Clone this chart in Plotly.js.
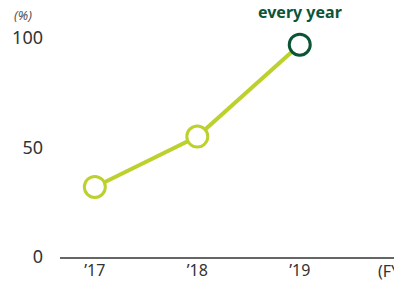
<!DOCTYPE html>
<html><head><meta charset="utf-8">
<script src="https://cdn.plot.ly/plotly-3.0.1.min.js"></script>
<style>html,body{margin:0;padding:0;background:#fff;overflow:hidden}#c{width:394px;height:282px}</style>
</head><body><div id="c"></div>
<script>
const years = ["\u201917", "\u201918", "\u201919"];
const values = [32, 55, 97];
const markerOutline = ['#bdd12e', '#bdd12e', '#0b5536'];
const yTicks = [0, 50, 100];

const xIdx = years.map((_, i) => i);
const trace = {
  x: xIdx, y: values, type: 'scatter', mode: 'lines+markers',
  line: {color: '#bdd12e', width: 4},
  marker: {size: 21, color: '#ffffff', line: {color: markerOutline, width: 3}},
  hoverinfo: 'none', cliponaxis: false
};
const layout = {
  width: 394, height: 282,
  margin: {l: 60, r: 0, t: 30, b: 25},
  paper_bgcolor: '#fff', plot_bgcolor: '#fff',
  font: {family: 'Noto Sans, sans-serif', color: '#333', size: 16},
  showlegend: false,
  xaxis: {
    range: [-0.34, 2.92], tickvals: xIdx, ticktext: years,
    showgrid: false, zeroline: false, showline: true, linecolor: '#666', linewidth: 1.5,
    ticks: '', ticklabelstandoff: -2, tickfont: {size: 16, color: '#333'}, fixedrange: true
  },
  yaxis: {
    range: [0, 103.7], tickvals: yTicks, showgrid: false, zeroline: false,
    showline: false, ticks: '', ticklabelstandoff: 16,
    tickfont: {size: 18, color: '#333'}, fixedrange: true
  },
  annotations: [
    {xref: 'paper', yref: 'paper', x: (376 - 60) / 334, xanchor: 'left', y: 0, yanchor: 'middle', yshift: -14,
     text: '(FY)', showarrow: false, font: {size: 16, color: '#333'}},
    {xref: 'x', yref: 'paper', x: 2, xanchor: 'center', y: 1, yanchor: 'middle', yshift: 18,
     text: '<b>every year</b>', showarrow: false, font: {size: 16, color: '#0b5536'}},
    {xref: 'paper', yref: 'paper', x: -48 / 334, xanchor: 'left', y: 1, yanchor: 'middle', yshift: 15,
     text: '<i>(%)</i>', showarrow: false, font: {size: 13, color: '#555'}}
  ]
};
Plotly.newPlot('c', [trace], layout, {displayModeBar: false, staticPlot: true});
</script></body></html>
